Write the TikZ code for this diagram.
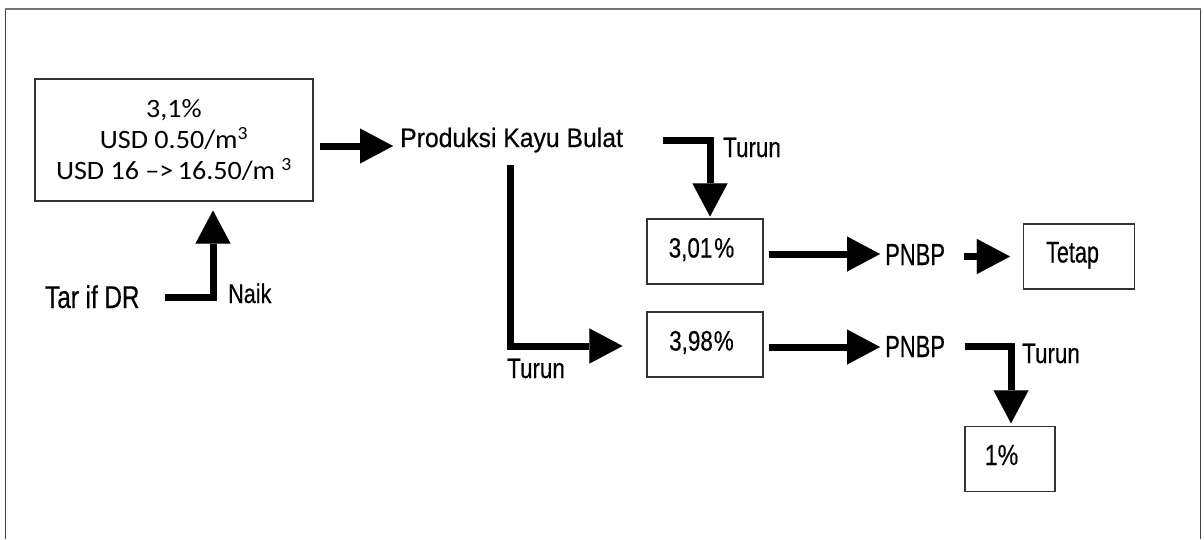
\documentclass[tikz,border=0pt]{standalone}
\usepackage{fontspec}
\usetikzlibrary{arrows.meta,calc}
\newfontfamily\narfont{Liberation Sans}[FakeStretch=0.80,FakeBold=0.4]
\newfontfamily\narrowfont{Liberation Sans}[FakeStretch=0.72,FakeBold=0.4]
\newfontfamily\tarfont{Liberation Sans}[FakeStretch=0.77,FakeBold=0.4]
\newfontfamily\prodfont{Liberation Sans}[FakeStretch=0.93,FakeBold=0.4]
\newfontfamily\calfont{Carlito}[FakeStretch=1.06]
\begin{document}
\begin{tikzpicture}[x=1pt,y=-1pt,
  box/.style={draw=black!80, line width=1.1pt, inner sep=0pt, text height=20pt, text depth=8pt,
    font=\narfont\fontsize{28}{30}\selectfont},
  lbl/.style={inner sep=0pt, anchor=base west},
  tfont/.style={font=\narfont\fontsize{28}{30}\selectfont},
  pfont/.style={font=\narrowfont\fontsize{30.5}{32}\selectfont},
  fat/.style={line width=7pt, line cap=butt, line join=miter,
    -{Triangle[length=33pt,width=35pt,line width=0.01pt]}},
]
\useasboundingbox (0,0) rectangle (1204,539);
% frame
\draw[black!75, line width=1pt] (5,539) -- (5,9);
\draw[black!75, line width=1pt] (1200,9) -- (1200,539);
\draw[black!55, line width=2pt] (4.5,9) -- (1200.5,9);

% nodes
\node[box, minimum width=278pt, minimum height=122pt, align=center, text height=, text depth=,
  font=\calfont\fontsize{26.5}{31}\selectfont] (b1) at (174,140)
  {3,1\%\\USD 0.50/m\textsuperscript{3}\\USD 16 –>\,16.50/m \textsuperscript{3}};
\node[lbl, font=\prodfont\fontsize{26.6}{30}\selectfont] (prod) at (400,147) {Produksi Kayu Bulat};
\node[lbl, font=\tarfont\fontsize{31.5}{33}\selectfont] (tar) at (45,308) {Tar if DR};
\node[lbl, font=\narfont\fontsize{27}{30}\selectfont] (naik) at (228,303) {Naik};
\node[lbl, tfont] (t1) at (723,157) {Turun};
\node[lbl, tfont] (t2) at (507,378) {Turun};
\node[lbl, tfont] (t3) at (1022,363) {Turun};
\node[box, minimum width=116pt, minimum height=65pt] (p301) at (705,251.5) {3,01\kern2pt\%\kern7pt};
\node[box, minimum width=116pt, minimum height=65pt] (p398) at (705,344.5) {3,98\kern1pt\%\kern7pt};
\node[lbl, pfont] (pn1) at (885,265) {PNBP};
\node[lbl, pfont] (pn2) at (885,357) {PNBP};
\node[box, minimum width=111pt, minimum height=65pt, font=\narrowfont\fontsize{30}{32}\selectfont] (tetap) at (1079,256.5) {Tetap\kern13pt};
\node[box, minimum width=90pt, minimum height=65pt, font=\narfont\fontsize{29}{32}\selectfont] (one) at (1010,459) {1\%\kern17pt};

% connectors
\draw[fat] ($(b1.east)+(6pt,-6pt)$) -- ($(b1.east -| prod.west)+(-7pt,-6pt)$);
\draw[fat] ($(tar.base east)+(25pt,11pt)$) -| ($(b1.south)+(39pt,-9pt)$);
\draw[fat] ($(prod.base east)+(40pt,7pt)$) -| ($(p301.north)+(5pt,2pt)$);
\draw[fat] ($(prod.south)+(-1pt,-12.5pt)$) |- ($(p398.west)+(-24pt,-1.5pt)$);
\draw[fat] ($(p301.east)+(5pt,-2.5pt)$) -- ($(p301.east -| pn1.west)+(-5pt,-2.5pt)$);
\draw[fat] ($(pn1.east |- tetap.west)+(19pt,0pt)$) -- ($(tetap.west)+(-13pt,0pt)$);
\draw[fat] ($(p398.east)+(5pt,-2.5pt)$) -- ($(p398.east -| pn2.west)+(-5pt,-2.5pt)$);
\draw[fat] ($(pn2.base east)+(19.5pt,11pt)$) -| ($(one.north)+(1pt,2.7pt)$);
\end{tikzpicture}
\end{document}
